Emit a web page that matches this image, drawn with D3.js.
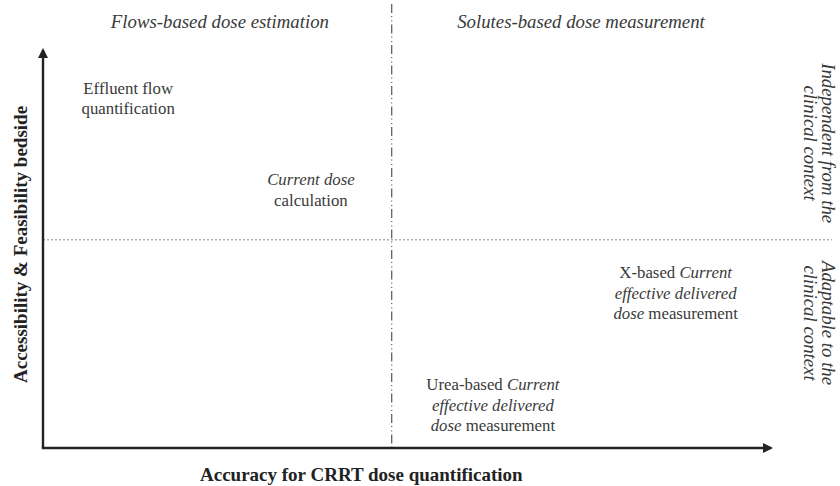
<!DOCTYPE html>
<html>
<head>
<meta charset="utf-8">
<script src="https://cdn.jsdelivr.net/npm/d3@7"></script>
<style>
  html, body { margin: 0; padding: 0; background: #fff; }
  svg { display: block; }
  text { font-family: "Liberation Serif", "Times New Roman", serif; }
</style>
</head>
<body>
<svg id="chart" width="840" height="486"></svg>
<script>
// ---- Data ----
const xAxisTitle = "Accuracy for CRRT dose quantification";
const yAxisTitle = "Accessibility & Feasibility bedside";

// column headers (x position in accuracy units)
const columnHeaders = ["Flows-based dose estimation", "Solutes-based dose measurement"];
const columnHeaderX = [24.3, 73.9];

// row headers on the right (y position in accessibility units)
const rowHeaderLines = [["Independent from the", "clinical context"], ["Adaptable to the", "clinical context"]];
const rowHeaderY = [76.6, 31.4];

// quadrant dividers
const dividerX = 47.9;
const dividerY = 52.3;

// methods: label lines (segments: [text, italic]) and positions
const methodLabels = [
  [[["Effluent flow", false]], [["quantification", false]]],
  [[["Current dose", true]], [["calculation", false]]],
  [[["X-based ", false], ["Current", true]], [["effective delivered", true]], [["dose", true], [" measurement", false]]],
  [[["Urea-based ", false], ["Current", true]], [["effective delivered", true]], [["dose", true], [" measurement", false]]]
];
const methodAccuracy = [11.7, 36.8, 86.9, 61.8];
const methodAccessibility = [87.9, 64.9, 38.9, 10.8];

// ---- Chart ----
const svg = d3.select("#chart");
const x = d3.scaleLinear().domain([0, 100]).range([43, 771]);
const y = d3.scaleLinear().domain([0, 100]).range([448, 50]);

const axisColor = "#222";
const textColor = "#3a3a3a";

// arrow markers
const defs = svg.append("defs");
defs.append("marker")
  .attr("id", "arrow")
  .attr("viewBox", "0 0 10 10")
  .attr("refX", 8).attr("refY", 5)
  .attr("markerWidth", 4.2).attr("markerHeight", 4.2)
  .attr("markerUnits", "strokeWidth")
  .attr("orient", "auto")
  .append("path")
  .attr("d", "M0,0 L10,5 L0,10 Z")
  .attr("fill", axisColor);

// horizontal dotted divider
svg.append("line")
  .attr("x1", x(0)).attr("x2", 832)
  .attr("y1", y(dividerY)).attr("y2", y(dividerY))
  .attr("stroke", "#888").attr("stroke-width", 1)
  .attr("stroke-dasharray", "2,2");

// vertical dash-dot divider
svg.append("line")
  .attr("x1", x(dividerX)).attr("x2", x(dividerX))
  .attr("y1", 4).attr("y2", y(0))
  .attr("stroke", "#555").attr("stroke-width", 1.2)
  .attr("stroke-dasharray", "9,3,1,3.5,1,3");

// axes
svg.append("line")
  .attr("x1", x(0)).attr("y1", y(0))
  .attr("x2", x(0)).attr("y2", y(100))
  .attr("stroke", axisColor).attr("stroke-width", 2.4)
  .attr("marker-end", "url(#arrow)");
svg.append("line")
  .attr("x1", x(0) - 1.2).attr("y1", y(0))
  .attr("x2", x(100)).attr("y2", y(0))
  .attr("stroke", axisColor).attr("stroke-width", 2.4)
  .attr("marker-end", "url(#arrow)");

// axis titles
svg.append("text")
  .attr("x", 200).attr("y", 481)
  .attr("font-size", 19).attr("font-weight", "bold")
  .attr("fill", axisColor)
  .text(xAxisTitle);
svg.append("text")
  .attr("transform", `translate(26.5,383) rotate(-90)`)
  .attr("font-size", 19).attr("font-weight", "bold")
  .attr("fill", axisColor)
  .text(yAxisTitle);

// column headers
svg.selectAll("text.col")
  .data(columnHeaders)
  .join("text")
  .attr("class", "col")
  .attr("x", (d, i) => x(columnHeaderX[i]))
  .attr("y", 28)
  .attr("text-anchor", "middle")
  .attr("font-size", 18.8)
  .attr("font-style", "italic")
  .attr("fill", textColor)
  .text(d => d);

// row headers (rotated clockwise)
const rowG = svg.selectAll("g.row")
  .data(rowHeaderLines)
  .join("g")
  .attr("class", "row")
  .attr("transform", (d, i) => `translate(822,${y(rowHeaderY[i])}) rotate(90)`);
rowG.selectAll("text")
  .data(d => d)
  .join("text")
  .attr("x", 0)
  .attr("y", (d, j) => j * 18)
  .attr("text-anchor", "middle")
  .attr("font-size", 18.8)
  .attr("font-style", "italic")
  .attr("fill", textColor)
  .text(d => d);

// method labels
const lineH = 20.5;
const labelG = svg.selectAll("g.method")
  .data(methodLabels)
  .join("g")
  .attr("class", "method")
  .attr("transform", (d, i) => `translate(${x(methodAccuracy[i])},${y(methodAccessibility[i])})`);
labelG.each(function(lines) {
  const g = d3.select(this);
  const n = lines.length;
  lines.forEach((segs, j) => {
    const t = g.append("text")
      .attr("x", 0)
      .attr("y", (j - (n - 1) / 2) * lineH + 5.8)
      .attr("text-anchor", "middle")
      .attr("font-size", 16.8)
      .attr("fill", textColor);
    segs.forEach(s => {
      t.append("tspan")
        .attr("font-style", s[1] ? "italic" : "normal")
        .text(s[0]);
    });
  });
});
</script>
</body>
</html>
